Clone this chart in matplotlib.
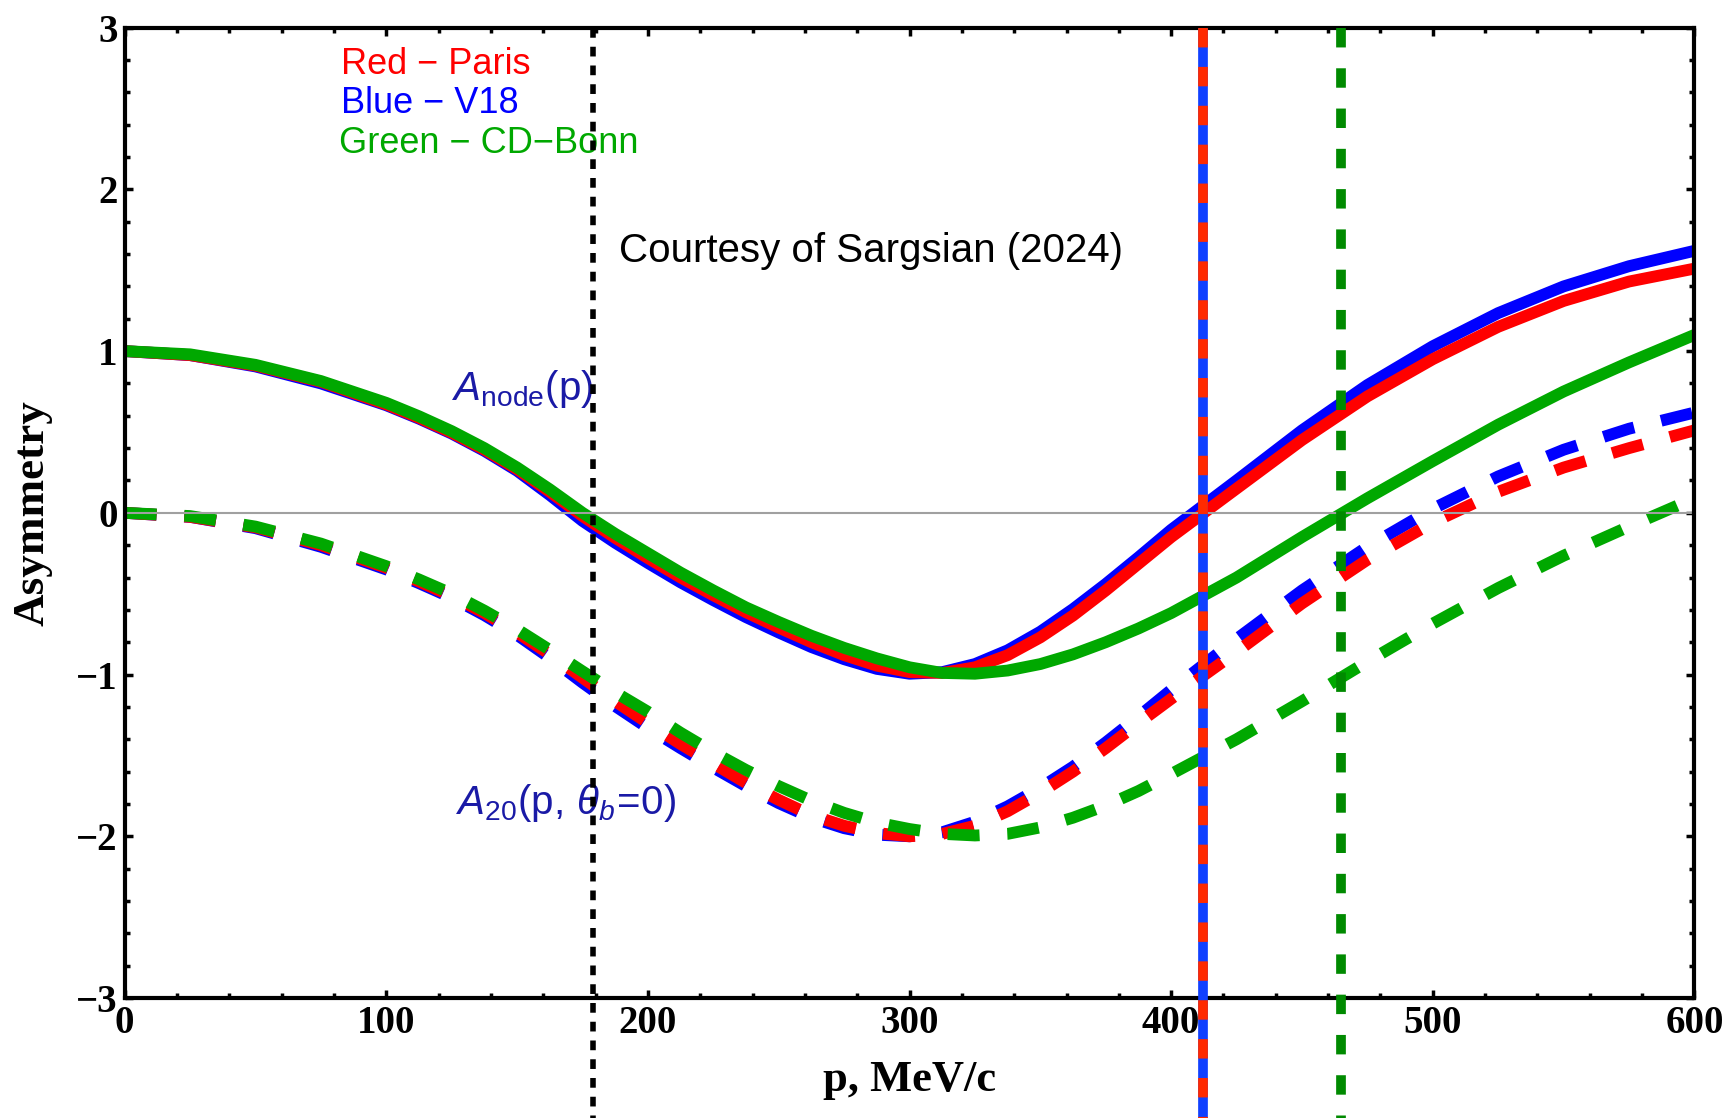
import numpy as np
import matplotlib.pyplot as plt
from matplotlib.ticker import MultipleLocator

plt.rcParams['lines.scale_dashes'] = False
plt.rcParams['mathtext.fontset'] = 'custom'
plt.rcParams['mathtext.rm'] = 'Liberation Sans'
plt.rcParams['mathtext.it'] = 'Liberation Sans:italic'
plt.rcParams['mathtext.bf'] = 'Liberation Sans:bold'

# ================================================================
# DATA
# ================================================================
p = [0, 25, 50, 75,
     100, 112.5, 125, 137.5, 150, 162.5, 175, 187.5,
     200, 212.5, 225, 237.5, 250, 262.5, 275, 287.5, 300,
     312.5, 325, 337.5, 350, 362.5, 375, 387.5, 400,
     425, 450, 475, 500, 525, 550, 575, 600]

# A_node(p)
node_paris = [1.00, 0.975, 0.91, 0.81,
              0.67, 0.587, 0.495, 0.39, 0.27, 0.13, -0.02, -0.155,
              -0.28, -0.40, -0.51, -0.615, -0.71, -0.80, -0.88, -0.945, -0.985,
              -0.99, -0.955, -0.88, -0.77, -0.635, -0.48, -0.315, -0.15,
              0.15, 0.45, 0.72, 0.95, 1.15, 1.31, 1.43, 1.51]
node_v18 = [1.00, 0.975, 0.905, 0.80,
            0.665, 0.582, 0.49, 0.383, 0.26, 0.11, -0.05, -0.185,
            -0.31, -0.43, -0.54, -0.645, -0.74, -0.83, -0.905, -0.965, -0.995,
            -0.985, -0.935, -0.85, -0.735, -0.595, -0.44, -0.275, -0.105,
            0.20, 0.51, 0.79, 1.03, 1.235, 1.40, 1.525, 1.62]
node_bonn = [1.00, 0.98, 0.915, 0.815,
             0.68, 0.597, 0.505, 0.40, 0.28, 0.145, 0.00, -0.13,
             -0.25, -0.37, -0.48, -0.585, -0.675, -0.76, -0.835, -0.90, -0.955,
             -0.99, -0.995, -0.975, -0.935, -0.875, -0.80, -0.715, -0.62,
             -0.40, -0.15, 0.09, 0.32, 0.545, 0.75, 0.93, 1.10]

# A20(p, theta_b = 0)
a20_paris = [0.00, -0.025, -0.09, -0.20,
             -0.34, -0.425, -0.515, -0.62, -0.74, -0.875, -1.02, -1.165,
             -1.30, -1.43, -1.55, -1.67, -1.775, -1.87, -1.935, -1.98, -2.00,
             -1.985, -1.935, -1.845, -1.73, -1.60, -1.455, -1.30, -1.15,
             -0.86, -0.56, -0.29, -0.06, 0.13, 0.28, 0.40, 0.51]
a20_v18 = [0.00, -0.025, -0.095, -0.21,
           -0.35, -0.435, -0.525, -0.633, -0.755, -0.897, -1.05, -1.195,
           -1.33, -1.455, -1.575, -1.69, -1.795, -1.885, -1.95, -1.99, -2.00,
           -1.975, -1.91, -1.815, -1.70, -1.57, -1.42, -1.26, -1.095,
           -0.78, -0.48, -0.21, 0.025, 0.225, 0.39, 0.52, 0.62]
a20_bonn = [0.00, -0.02, -0.085, -0.19,
            -0.33, -0.412, -0.50, -0.605, -0.72, -0.848, -0.98, -1.11,
            -1.23, -1.36, -1.48, -1.59, -1.69, -1.78, -1.855, -1.915, -1.955,
            -1.985, -1.995, -1.985, -1.945, -1.885, -1.81, -1.72, -1.615,
            -1.40, -1.165, -0.92, -0.685, -0.465, -0.265, -0.085, 0.09]

# vertical markers (MeV/c)
p_marker = 179
p_node_paris_v18 = 412
p_node_bonn = 465

RED = '#ff0000'
BLUE = '#0000ff'
GREEN = '#00a800'
LABEL_BLUE = '#1a1aa6'

# ================================================================
# PLOT
# ================================================================
fig = plt.figure(figsize=(17.29, 11.18), dpi=100)
ax = fig.add_axes([0.0721, 0.1073, 0.9079, 0.8680])

lw = 8.5
dash = (0, (23, 20))
solid_kw = dict(lw=lw, solid_capstyle='butt', solid_joinstyle='round')
dash_kw = dict(lw=lw, linestyle=dash, dash_capstyle='butt', dash_joinstyle='round')

ax.plot(p, node_v18, color=BLUE, zorder=2, **solid_kw)
ax.plot(p, node_paris, color=RED, zorder=2.1, **solid_kw)
ax.plot(p, node_bonn, color=GREEN, zorder=2.2, **solid_kw)

ax.plot(p, a20_v18, color=BLUE, zorder=2, **dash_kw)
ax.plot(p, a20_paris, color=RED, zorder=2.1, **dash_kw)
ax.plot(p, a20_bonn, color=GREEN, zorder=2.2, **dash_kw)

ax.axhline(0, color='#a0a0a0', lw=1.5, zorder=2.3)

# vertical lines run past the bottom of the frame
y_low = -3.9
ax.plot([p_marker, p_marker], [3, y_low], color='black', lw=4,
        linestyle=(0, (7, 6.5)), dash_capstyle='butt', clip_on=False, zorder=5)
ax.plot([p_node_paris_v18] * 2, [3, y_low], color='#1040ff', lw=7,
        solid_capstyle='butt', clip_on=False, zorder=5)
ax.plot([p_node_paris_v18] * 2, [3, y_low], color='#ff2a00', lw=7,
        linestyle=(0, (14, 14)), dash_capstyle='butt', clip_on=False, zorder=5.1)
ax.plot([p_node_bonn] * 2, [3, y_low], color='#008a00', lw=7,
        linestyle=(0, (14, 15)), dash_capstyle='butt', clip_on=False, zorder=5)

# annotations
ax.text(82.5, 2.775, 'Red \u2212 Paris', color=RED, fontsize=26,
        family='Liberation Sans', va='center', ha='left')
ax.text(82.5, 2.53, 'Blue \u2212 V18', color=BLUE, fontsize=26,
        family='Liberation Sans', va='center', ha='left')
ax.text(82.0, 2.285, 'Green \u2212 CD\u2212Bonn', color=GREEN, fontsize=26,
        family='Liberation Sans', va='center', ha='left')
ax.text(189, 1.62, 'Courtesy of Sargsian (2024)', color='black', fontsize=29,
        family='Liberation Sans', va='center', ha='left')
ax.text(125, 0.70, r'$A_{\mathrm{node}}\mathrm{(p)}$', color=LABEL_BLUE,
        fontsize=29, va='baseline', ha='left')
ax.text(126.5, -1.86, r'$A_{20}\mathrm{(p,\,}\theta_b\!=\!\mathrm{0)}$', color=LABEL_BLUE,
        fontsize=29, va='baseline', ha='left')

# axes styling
ax.set_xlim(0, 600)
ax.set_ylim(-3, 3)
ax.xaxis.set_major_locator(MultipleLocator(100))
ax.xaxis.set_minor_locator(MultipleLocator(20))
ax.yaxis.set_major_locator(MultipleLocator(1))
ax.yaxis.set_minor_locator(MultipleLocator(0.2))
ax.tick_params(which='both', direction='in', top=True, right=True, width=2.5)
ax.tick_params(which='major', length=6, pad=5)
ax.tick_params(which='minor', length=3.5)
for spine in ax.spines.values():
    spine.set_linewidth(3)

for lab in ax.get_xticklabels() + ax.get_yticklabels():
    lab.set_family('Liberation Serif')
    lab.set_fontweight('bold')
    lab.set_fontsize(28)

ax.set_xlabel('p, MeV/c', family='Liberation Serif', fontweight='bold',
              fontsize=32, labelpad=13)
ax.set_ylabel('Asymmetry', family='Liberation Serif', fontweight='bold',
              fontsize=32.5, labelpad=17)

fig.savefig('out.png', dpi=100)
